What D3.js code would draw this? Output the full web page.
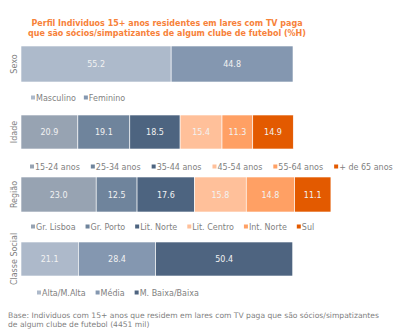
<!DOCTYPE html>
<html>
<head>
<meta charset="utf-8">
<script src="https://cdn.jsdelivr.net/npm/d3@7"></script>
<style>
  body { margin: 0; background: #fff; }
  svg text { font-family: "DejaVu Sans", Verdana, sans-serif; }
</style>
</head>
<body>
<div id="chart"></div>
<script>
// four stacked 100% bars, one per breakdown
var groups = ['Sexo', 'Idade', 'Região', 'Classe Social'];

var sexoCats = ['Masculino', 'Feminino'];
var sexoVals = [55.2, 44.8];

var idadeCats = ['15-24 anos', '25-34 anos', '35-44 anos', '45-54 anos', '55-64 anos', '+ de 65 anos'];
var idadeVals = [20.9, 19.1, 18.5, 15.4, 11.3, 14.9];

var regiaoCats = ['Gr. Lisboa', 'Gr. Porto', 'Lit. Norte', 'Lit. Centro', 'Int. Norte', 'Sul'];
var regiaoVals = [23.0, 12.5, 17.6, 15.8, 14.8, 11.1];

var classeCats = ['Alta/M.Alta', 'Média', 'M. Baixa/Baixa'];
var classeVals = [21.1, 28.4, 50.4];

// axis maximum of each small chart
var axisMax = [100, 100, 83.2, 100];

var titleLines = ['Perfil Individuos 15+ anos residentes em lares com TV paga',
                  'que são sócios/simpatizantes de algum clube de futebol  (%H)'];
var footLines = ['Base: Individuos com 15+ anos que residem em lares com TV paga que são sócios/simpatizantes',
                 'de algum clube de futebol (4451  mil)'];

var cats = [sexoCats, idadeCats, regiaoCats, classeCats];
var vals = [sexoVals, idadeVals, regiaoVals, classeVals];

var grayPal = ['#97a3b2', '#6f849c', '#4d6480', '#ffc09a', '#ffa064', '#e35a00'];
var palettes = [
  ['#adbacb', '#8497b0'],
  grayPal,
  grayPal,
  ['#adb9ca', '#8497b0', '#4e6480']
];

var width = 400, height = 333;
var barTop = [46, 115, 177, 242];
var barH = [36, 34, 35, 34];
var legendY = [98, 167, 227, 293];
var legendX = [31, 30, 31, 37];
var legendGap = [8, 11, 10, 10];

var svg = d3.select('#chart').append('svg')
    .attr('width', width)
    .attr('height', height);

svg.selectAll('text.title').data(titleLines).enter()
  .append('text')
  .attr('class', 'title')
  .attr('x', 167)
  .attr('y', function(d, i) { return 26 + i * 10; })
  .attr('text-anchor', 'middle')
  .attr('font-size', 8)
  .attr('font-weight', 'bold')
  .attr('fill', '#f7823a')
  .text(function(d) { return d; });

groups.forEach(function(name, gi) {
  var x = d3.scaleLinear().domain([0, axisMax[gi]]).range([21, 293]);
  var color = d3.scaleOrdinal().domain(cats[gi]).range(palettes[gi]);

  var cum = 0;
  var segs = vals[gi].map(function(v, i) {
    var s = {cat: cats[gi][i], v: v, x0: cum, x1: cum + v};
    cum += v;
    return s;
  });

  var g = svg.append('g');
  var y0 = barTop[gi], h = barH[gi];

  g.selectAll('rect').data(segs).enter()
    .append('rect')
    .attr('x', function(d) { return x(d.x0); })
    .attr('y', y0)
    .attr('width', function(d) { return x(d.x1) - x(d.x0); })
    .attr('height', h)
    .attr('fill', function(d) { return color(d.cat); })
    .attr('stroke', '#fff')
    .attr('stroke-width', 0.6);

  g.selectAll('text.val').data(segs).enter()
    .append('text')
    .attr('class', 'val')
    .attr('x', function(d) { return (x(d.x0) + x(d.x1)) / 2; })
    .attr('y', y0 + h / 2 + 3)
    .attr('text-anchor', 'middle')
    .attr('font-size', 8)
    .attr('fill', '#f2f2f2')
    .text(function(d) { return d.v.toFixed(1); });

  // rotated group label on the left
  svg.append('text')
    .attr('transform', 'translate(17,' + (y0 + h / 2) + ') rotate(-90)')
    .attr('text-anchor', 'middle')
    .attr('font-size', 8)
    .attr('fill', '#7f7f7f')
    .text(name);

  // legend row
  var lx = legendX[gi];
  var ly = legendY[gi];
  cats[gi].forEach(function(c) {
    svg.append('rect')
      .attr('x', lx)
      .attr('y', ly - 2.5)
      .attr('width', 4)
      .attr('height', 4)
      .attr('fill', color(c));
    var t = svg.append('text')
      .attr('x', lx + 5)
      .attr('y', ly + 3)
      .attr('font-size', 8)
      .attr('fill', '#7f7f7f')
      .text(c);
    lx += 5 + t.node().getComputedTextLength() + legendGap[gi];
  });
});

svg.selectAll('text.foot').data(footLines).enter()
  .append('text')
  .attr('class', 'foot')
  .attr('x', 8)
  .attr('y', function(d, i) { return 318 + i * 9; })
  .attr('font-size', 7.6)
  .attr('fill', '#7f7f7f')
  .text(function(d) { return d; });
</script>
</body>
</html>
